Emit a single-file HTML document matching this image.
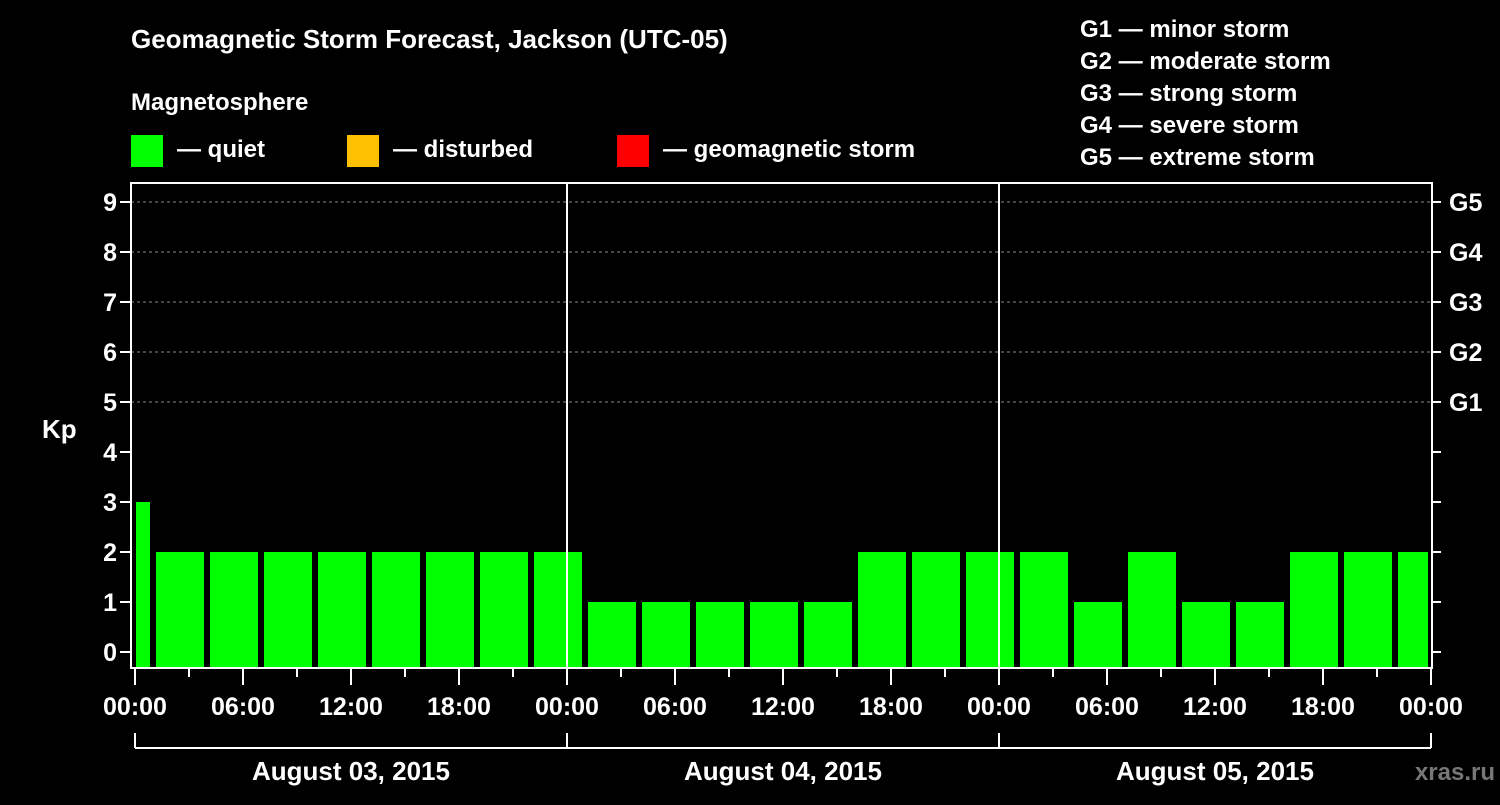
<!DOCTYPE html>
<html><head><meta charset="utf-8"><style>
body{margin:0;background:#000;width:1500px;height:800px;overflow:hidden}
svg text{font-family:"Liberation Sans",sans-serif;font-weight:bold;fill:#fff}
</style></head><body>
<svg id="c" width="1500" height="800">
<text x="131" y="48" font-size="26">Geomagnetic Storm Forecast, Jackson (UTC-05)</text>
<text x="131" y="110" font-size="24">Magnetosphere</text>
<g><rect x="131" y="135" width="32" height="32" fill="#00ff00"/><text x="177" y="157" font-size="24">— quiet</text></g>
<g><rect x="347" y="135" width="32" height="32" fill="#ffc000"/><text x="393" y="157" font-size="24">— disturbed</text></g>
<g><rect x="617" y="135" width="32" height="32" fill="#ff0000"/><text x="663" y="157" font-size="24">— geomagnetic storm</text></g>
<g font-size="24">
<text x="1080" y="37">G1 — minor storm</text><text x="1080" y="69">G2 — moderate storm</text><text x="1080" y="101">G3 — strong storm</text><text x="1080" y="133">G4 — severe storm</text><text x="1080" y="165">G5 — extreme storm</text></g>
<text x="42" y="438" font-size="26">Kp</text>
<g id="grid"></g><g id="bars"></g><g id="axes"></g>
<text x="1495" y="780" font-size="24" text-anchor="end" fill="#777" style="fill:#777">xras.ru</text>
</svg>
<script>
const kpValues=[3,2,2,2,2,2,2,2,2,1,1,1,1,1,2,2,2,2,1,2,1,1,2,2,2];
const dayLabels=["August 03, 2015","August 04, 2015","August 05, 2015"];
const timeLabels=["00:00","06:00","12:00","18:00"];
const gLabels=["G1","G2","G3","G4","G5"];
const firstBarStartHour=-2.1667;
const NS="http://www.w3.org/2000/svg";
const X0=135,PX_H=18,Y0=652,PX_K=50,L=131,R=1432,T=183,B=668;
const xs=h=>X0+h*PX_H, ys=k=>Y0-k*PX_K;
function mk(t,a,p){const e=document.createElementNS(NS,t);for(const k in a)e.setAttribute(k,a[k]);p.appendChild(e);return e;}
const grid=document.getElementById('grid'),bars=document.getElementById('bars'),axes=document.getElementById('axes');
for(let k=5;k<=9;k++){const l=mk('line',{x1:L,x2:R,y1:ys(k),y2:ys(k),stroke:'#888','stroke-dasharray':'3,3','stroke-width':1},grid);

}
kpValues.forEach((v,i)=>{const s=firstBarStartHour+i*3;let x1=xs(s)+6,x2=xs(s+3);x1=Math.max(x1,L+5);x2=Math.min(x2,R-4);
const r=mk('rect',{x:x1,y:ys(v),width:x2-x1,height:B-ys(v),fill:v>=5?'#ff0000':v>=4?'#ffc000':'#00ff00'},bars);

});
mk('rect',{x:L,y:T,width:R-L,height:B-T,fill:'none',stroke:'#fff','stroke-width':2},axes);
for(let d=1;d<3;d++){const l=mk('line',{x1:xs(d*24),x2:xs(d*24),y1:T,y2:B,stroke:'#fff','stroke-width':2},axes);

}
for(let k=0;k<=9;k++){mk('line',{x1:L-11,x2:L,y1:ys(k),y2:ys(k),stroke:'#fff','stroke-width':2},axes);
mk('line',{x1:R,x2:R+9,y1:ys(k),y2:ys(k),stroke:'#fff','stroke-width':2},axes);
const t=mk('text',{x:L-14,y:ys(k)+9,'font-size':25,'text-anchor':'end'},axes);t.textContent=k;

}
gLabels.forEach((g,i)=>{const t=mk('text',{x:1449,y:ys(5+i)+9,'font-size':25},axes);t.textContent=g;

});
for(let h=0;h<=72;h+=3){const maj=h%6===0;mk('line',{x1:xs(h),x2:xs(h),y1:B,y2:B+(maj?17:9),stroke:'#fff','stroke-width':2},axes);
if(maj&&(h%24===0||h%6===0)){const lbl=timeLabels[(h%24)/6];const t=mk('text',{x:xs(h),y:715,'font-size':25,'text-anchor':'middle'},axes);t.textContent=lbl;

}}
mk('line',{x1:xs(0),x2:xs(72),y1:748,y2:748,stroke:'#fff','stroke-width':2},axes);
for(let d=0;d<=3;d++)mk('line',{x1:xs(d*24),x2:xs(d*24),y1:733,y2:748,stroke:'#fff','stroke-width':2},axes);
dayLabels.forEach((s,i)=>{const t=mk('text',{x:xs(i*24+12),y:780,'font-size':26,'text-anchor':'middle'},axes);t.textContent=s;

});
</script>
</body></html>
